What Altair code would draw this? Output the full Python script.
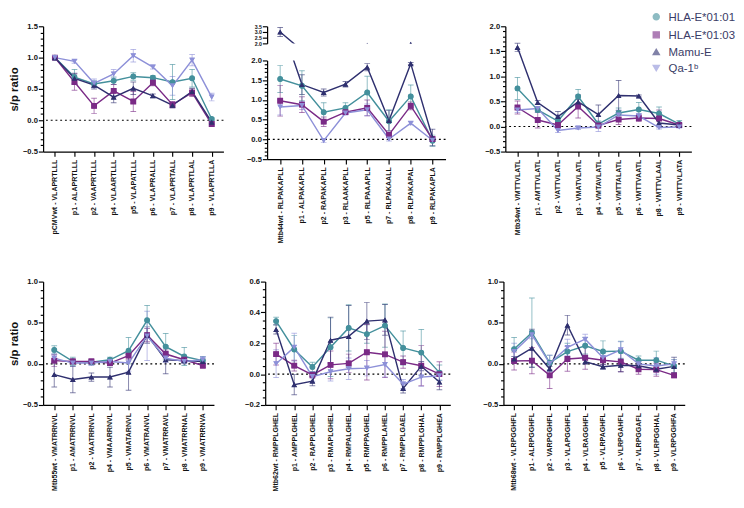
import altair as alt
import pandas as pd

SERIES = ["HLA-E*01:01", "HLA-E*01:03", "Mamu-E", "Qa-1ᵇ"]
COLORS = ["#44909c", "#7a2a86", "#2f306f", "#8d90d8"]
SHAPES = ["circle", "square", "triangle-up", "triangle-down"]

# ---- Panel 1 (pCMV) ----
P1_LABELS = ["pCMVwt - VLAPRTLLL", "p1 - ALAPRTLLL", "p2 - VAAPRTLLL", "p4 - VLAARTLLL",
             "p5 - VLAPATLLL", "p6 - VLAPRALLL", "p7 - VLAPRTALL", "p8 - VLAPRTLAL", "p9 - VLAPRTLLA"]
P1_E0101 = [1.0, 0.69, 0.58, 0.63, 0.70, 0.68, 0.61, 0.67, 0.02]
P1_E0101_SD = [0.01, 0.12, 0.05, 0.06, 0.06, 0.03, 0.28, 0.14, 0.02]
P1_E0103 = [1.0, 0.61, 0.23, 0.47, 0.30, 0.60, 0.25, 0.44, -0.06]
P1_E0103_SD = [0.01, 0.13, 0.12, 0.10, 0.16, 0.05, 0.05, 0.06, 0.03]
P1_MAMU = [1.0, 0.67, 0.56, 0.37, 0.51, 0.39, 0.24, 0.46, -0.03]
P1_MAMU_SD = [0.01, 0.08, 0.06, 0.09, 0.10, 0.03, 0.04, 0.05, 0.02]
P1_QA1 = [1.0, 0.94, 0.59, 0.74, 1.03, 0.85, 0.55, 0.96, 0.37]
P1_QA1_SD = [0.01, 0.03, 0.07, 0.07, 0.10, 0.03, 0.15, 0.09, 0.06]

# ---- Panel 2 (Mtb44) ----
P2_LABELS = ["Mtb44wt - RLPAKAPLL", "p1 - ALPAKAPLL", "p2 - RAPAKAPLL", "p3 - RLAAKAPLL",
             "p5 - RLPAAAPLL", "p7 - RLPAKAALL", "p8 - RLPAKAPAL", "p9 - RLPAKAPLA"]
P2_E0101 = [1.53, 1.36, 0.69, 0.80, 1.19, 0.46, 1.09, -0.03]
P2_E0101_SD = [0.34, 0.38, 0.24, 0.13, 0.41, 0.29, 0.29, 0.14]
P2_E0103 = [0.98, 0.88, 0.45, 0.69, 0.80, 0.12, 0.85, 0.01]
P2_E0103_SD = [0.39, 0.20, 0.12, 0.05, 0.20, 0.05, 0.10, 0.03]
P2_MAMU = [3.0, 1.39, 1.19, 1.40, 1.83, 0.48, 1.92, 0.05]
P2_MAMU_SD = [0.40, 0.25, 0.09, 0.07, 0.09, 0.25, 0.03, 0.21]
P2_QA1 = [0.82, 0.86, -0.03, 0.67, 0.75, 0.01, 0.41, -0.02]
P2_QA1_SD = [0.20, 0.10, 0.05, 0.05, 0.15, 0.05, 0.04, 0.03]

# ---- Panel 3 (Mtb34) ----
P3_LABELS = ["Mtb34wt - VMTTVLATL", "p1 - AMTTVLATL", "p2 - VATTVLATL", "p3 - VMATVLATL",
             "p4 - VMTAVLATL", "p5 - VMTTALATL", "p6 - VMTTVAATL", "p8 - VMTTVLAAL", "p9 - VMTTVLATA"]
P3_E0101 = [0.76, 0.33, 0.11, 0.60, 0.05, 0.27, 0.34, 0.26, 0.05]
P3_E0101_SD = [0.22, 0.05, 0.08, 0.14, 0.06, 0.10, 0.14, 0.13, 0.07]
P3_E0103 = [0.38, 0.13, 0.03, 0.40, 0.02, 0.14, 0.17, 0.16, 0.03]
P3_E0103_SD = [0.13, 0.16, 0.05, 0.23, 0.03, 0.10, 0.07, 0.17, 0.03]
P3_MAMU = [1.58, 0.48, 0.20, 0.49, 0.24, 0.62, 0.61, 0.07, 0.03]
P3_MAMU_SD = [0.08, 0.04, 0.10, 0.05, 0.19, 0.30, 0.02, 0.05, 0.02]
P3_QA1 = [0.33, 0.36, -0.08, -0.03, -0.01, 0.23, 0.21, -0.02, -0.01]
P3_QA1_SD = [0.05, 0.04, 0.04, 0.03, 0.09, 0.10, 0.05, 0.03, 0.02]

# ---- Panel 4 (Mtb55) ----
P4_LABELS = ["Mtb55wt - VMATRRNVL", "p1 - AMATRRNVL", "p2 - VAATRRNVL", "p4 - VMAARRNVL",
             "p5 - VMATARNVL", "p6 - VMATRANVL", "p7 - VMATRRAVL", "p8 - VMATRRNAL", "p9 - VMATRRNVA"]
P4_E0101 = [0.17, 0.03, 0.02, 0.05, 0.16, 0.53, 0.21, 0.09, 0.04]
P4_E0101_SD = [0.05, 0.05, 0.03, 0.03, 0.16, 0.18, 0.16, 0.11, 0.05]
P4_E0103 = [0.04, 0.03, 0.03, 0.01, 0.10, 0.35, 0.12, 0.05, -0.02]
P4_E0103_SD = [0.07, 0.03, 0.03, 0.03, 0.05, 0.08, 0.05, 0.03, 0.03]
P4_MAMU = [-0.13, -0.19, -0.16, -0.16, -0.10, 0.35, 0.05, 0.04, 0.03]
P4_MAMU_SD = [0.15, 0.16, 0.05, 0.12, 0.22, 0.10, 0.17, 0.03, 0.03]
P4_QA1 = [0.07, 0.01, 0.01, 0.03, 0.01, 0.34, 0.07, 0.03, 0.05]
P4_QA1_SD = [0.05, 0.04, 0.03, 0.03, 0.10, 0.30, 0.05, 0.03, 0.04]

# ---- Panel 5 (Mtb62) ----
P5_LABELS = ["Mtb62wt - RMPPLGHEL", "p1 - AMPPLGHEL", "p2 - RAPPLGHEL", "p3 - RMAPLGHEL",
             "p4 - RMPALGHEL", "p5 - RMPPAGHEL", "p6 - RMPPLAHEL", "p7 - RMPPLGAEL",
             "p8 - RMPPLGHAL", "p9 - RMPPLGHEA"]
P5_E0101 = [0.344, 0.16, 0.047, 0.175, 0.30, 0.26, 0.315, 0.17, 0.14, 0.01]
P5_E0101_SD = [0.025, 0.09, 0.03, 0.19, 0.15, 0.06, 0.14, 0.11, 0.15, 0.05]
P5_E0103 = [0.13, 0.055, -0.005, 0.06, 0.07, 0.142, 0.128, 0.078, 0.055, 0.0]
P5_E0103_SD = [0.07, 0.035, 0.02, 0.09, 0.06, 0.18, 0.15, 0.04, 0.13, 0.08]
P5_MAMU = [0.29, -0.068, -0.045, 0.22, 0.245, 0.344, 0.352, -0.092, 0.052, -0.051]
P5_MAMU_SD = [0.03, 0.065, 0.03, 0.15, 0.20, 0.12, 0.10, 0.03, 0.03, 0.05]
P5_QA1 = [0.068, 0.175, -0.016, 0.016, 0.035, 0.039, 0.062, -0.064, -0.019, -0.01]
P5_QA1_SD = [0.09, 0.09, 0.03, 0.06, 0.07, 0.05, 0.08, 0.03, 0.06, 0.03]

# ---- Panel 6 (Mtb68) ----
P6_LABELS = ["Mtb68wt - VLRPGGHFL", "p1 - ALRPGGHFL", "p2 - VARPGGHFL", "p3 - VLAPGGHFL",
             "p4 - VLRAGGHFL", "p5 - VLRPAGHFL", "p6 - VLRPGAHFL", "p7 - VLRPGGAFL",
             "p8 - VLRPGGHAL", "p9 - VLRPGGHFA"]
P6_E0101 = [0.18, 0.38, 0.015, 0.15, 0.22, 0.15, 0.155, 0.045, 0.045, -0.025]
P6_E0101_SD = [0.14, 0.42, 0.09, 0.10, 0.10, 0.13, 0.12, 0.05, 0.11, 0.08]
P6_E0103 = [0.035, 0.04, -0.14, 0.06, 0.075, 0.045, 0.025, -0.065, -0.07, -0.14]
P6_E0103_SD = [0.11, 0.16, 0.16, 0.15, 0.14, 0.05, 0.12, 0.06, 0.08, 0.03]
P6_MAMU = [0.06, 0.19, -0.06, 0.47, 0.027, -0.035, -0.016, -0.023, -0.066, -0.03]
P6_MAMU_SD = [0.03, 0.23, 0.03, 0.12, 0.03, 0.03, 0.08, 0.03, 0.03, 0.11]
P6_QA1 = [0.15, 0.355, 0.005, 0.20, 0.30, 0.075, 0.17, 0.0, -0.025, 0.0]
P6_QA1_SD = [0.10, 0.05, 0.10, 0.10, 0.06, 0.05, 0.10, 0.03, 0.10, 0.05]

# axis tick definitions: (min, max, major step, minor step)
P1_TICKS = (-0.5, 1.5, 0.5, 0.1)
P2_TICKS_LOW = (-0.5, 2.0, 0.5, 0.1)
P2_TICKS_HIGH = (2.0, 3.5, 0.5, 0.5)
P3_TICKS = (-0.5, 2.0, 0.5, 0.1)
P4_TICKS = (-0.5, 1.0, 0.5, 0.1)
P5_TICKS = (-0.2, 0.6, 0.2, 0.05)
P6_TICKS = (-0.5, 1.0, 0.5, 0.1)

FONT = "Liberation Sans"

LEGEND = alt.Legend(orient="none", legendX=640, legendY=-16, title=None, labelFontSize=12,
                    labelColor="#3a3c66", symbolSize=40, rowPadding=5, labelFont=FONT,
                    symbolStrokeWidth=1.5, labelLimit=120, labelOffset=7,
                    padding=0, offset=0)


def tick_values(lo, hi, minor):
    n = int(round((hi - lo) / minor))
    return [round(lo + i * minor, 4) for i in range(n + 1)]


def y_axis(ticks, title=None, extent=None, label_size=8):
    lo, hi, major, minor = ticks
    test = f"abs(datum.value/{major} - round(datum.value/{major})) < 0.001"
    kw = dict(
        values=tick_values(lo, hi, minor),
        labelExpr=f"{test} ? format(datum.value, '.1f') : ''",
        tickSize={"condition": {"test": test, "value": 5}, "value": 3},
        labelFontSize=label_size,
        labelFontWeight="bold",
        labelPadding=1,
        labelOverlap=False,
        title=title,
        titleFontSize=12,
        titleFontWeight="bold",
        titlePadding=2,
        grid=False,
    )
    if extent is not None:
        kw["minExtent"] = extent
    return alt.Axis(**kw)


def build_df(labels, vals_list, sd_list, only=None):
    rows = []
    for name, vals, sds in zip(SERIES, vals_list, sd_list):
        if only is not None and name not in only:
            continue
        for lab, v, s in zip(labels, vals, sds):
            rows.append({"peptide": lab, "allele": name, "ratio": v,
                         "lo": round(v - s, 4), "hi": round(v + s, 4)})
    return pd.DataFrame(rows)


def panel(labels, vals_list, sd_list, ticks, w, h, ytitle=None, extent=None,
          only=None, show_x=True, label_size=8):
    df = build_df(labels, vals_list, sd_list, only)
    lo, hi = ticks[0], ticks[1]
    yscale = alt.Scale(domain=[lo, hi], nice=False, zero=False)
    yaxis = y_axis(ticks, ytitle, extent, label_size)
    xaxis = alt.Axis(labelAngle=-90, labelFontSize=7.4, labelFontWeight="bold",
                     tickSize=5, labelPadding=3, title=None) if show_x else None
    xenc = alt.X("peptide:N", sort=labels,
                 scale=alt.Scale(type="point", domain=labels, padding=0.6),
                 axis=xaxis)
    color = alt.Color("allele:N", scale=alt.Scale(domain=SERIES, range=COLORS), legend=LEGEND)
    shape = alt.Shape("allele:N", scale=alt.Scale(domain=SERIES, range=SHAPES), legend=LEGEND)

    zero = alt.Chart(pd.DataFrame({"peptide": [labels[0]], "zero": [0.0]})).mark_rule(
        color="black", strokeDash=[2, 3], strokeWidth=1.2
    ).encode(y=alt.Y("zero:Q", scale=yscale, axis=yaxis))

    err = alt.Chart(df).mark_errorbar(ticks={"size": 6}, clip=True, opacity=0.6, thickness=1).encode(
        x=xenc,
        y=alt.Y("lo:Q", scale=yscale, axis=yaxis, title=ytitle),
        y2="hi:Q",
        color=color,
    )
    line = alt.Chart(df).mark_line(strokeWidth=1.5, clip=True).encode(
        x=xenc, y=alt.Y("ratio:Q", scale=yscale, axis=yaxis),
        color=color, shape=shape,
    )
    pts = alt.Chart(df).mark_point(filled=True, size=38, opacity=1, clip=True).encode(
        x=xenc, y=alt.Y("ratio:Q", scale=yscale, axis=yaxis),
        color=color, shape=shape,
    )
    layers = [zero, err, line, pts] if lo < 0 < hi else [err, line, pts]
    return alt.layer(*layers).properties(width=w, height=h)


p1 = panel(P1_LABELS, [P1_E0101, P1_E0103, P1_MAMU, P1_QA1],
           [P1_E0101_SD, P1_E0103_SD, P1_MAMU_SD, P1_QA1_SD], P1_TICKS, 190, 132, ytitle="s/p ratio")

p2_top = panel(P2_LABELS, [P2_E0101, P2_E0103, P2_MAMU, P2_QA1],
               [P2_E0101_SD, P2_E0103_SD, P2_MAMU_SD, P2_QA1_SD], P2_TICKS_HIGH, 188, 18,
               extent=25, only=["Mamu-E"], show_x=False, label_size=5.5)
p2_low = panel(P2_LABELS, [P2_E0101, P2_E0103, P2_MAMU, P2_QA1],
               [P2_E0101_SD, P2_E0103_SD, P2_MAMU_SD, P2_QA1_SD], P2_TICKS_LOW, 188, 104, extent=25)
p2 = alt.vconcat(p2_top, p2_low, spacing=10)

p3 = panel(P3_LABELS, [P3_E0101, P3_E0103, P3_MAMU, P3_QA1],
           [P3_E0101_SD, P3_E0103_SD, P3_MAMU_SD, P3_QA1_SD], P3_TICKS, 196, 132, extent=42)

p4 = panel(P4_LABELS, [P4_E0101, P4_E0103, P4_MAMU, P4_QA1],
           [P4_E0101_SD, P4_E0103_SD, P4_MAMU_SD, P4_QA1_SD], P4_TICKS, 180, 130, ytitle="s/p ratio")
p5 = panel(P5_LABELS, [P5_E0101, P5_E0103, P5_MAMU, P5_QA1],
           [P5_E0101_SD, P5_E0103_SD, P5_MAMU_SD, P5_QA1_SD], P5_TICKS, 195, 130, extent=33)
p6 = panel(P6_LABELS, [P6_E0101, P6_E0103, P6_MAMU, P6_QA1],
           [P6_E0101_SD, P6_E0103_SD, P6_MAMU_SD, P6_QA1_SD], P6_TICKS, 191, 130, extent=35)

row1 = alt.hconcat(p1, p2, p3, spacing=20)
row2 = alt.hconcat(p4, p5, p6, spacing=20)

chart = alt.vconcat(row1, row2, spacing=36).resolve_scale(
    color="shared", shape="shared"
).properties(
    padding={"left": 0, "top": -10, "right": 0, "bottom": 0}
).configure(font=FONT).configure_view(stroke=None).configure_axis(
    domainColor="black", domainWidth=1.3, tickColor="black", tickWidth=1.2,
    labelColor="#111111", labelFont=FONT, titleFont=FONT, titleColor="#111111",
)

chart.save("out.html", embed_options={"renderer": "svg", "actions": False})
